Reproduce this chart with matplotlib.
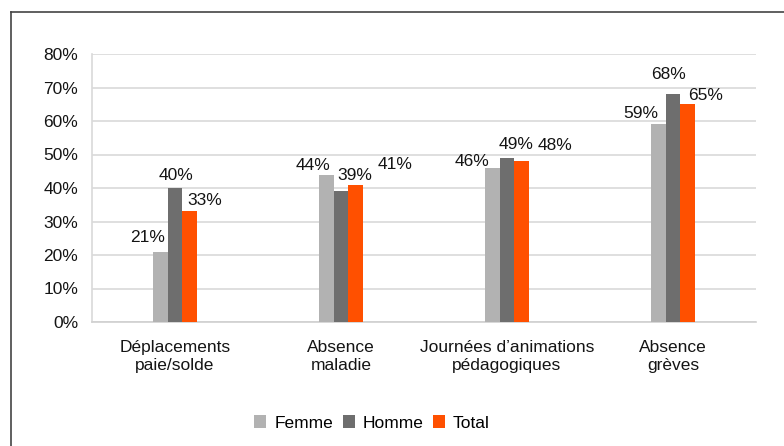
import numpy as np
import matplotlib

matplotlib.use("Agg")

import matplotlib.pyplot as plt
from matplotlib.lines import Line2D
from matplotlib.patches import Patch

plt.rcParams["font.family"] = ["Liberation Sans", "DejaVu Sans"]

categories = ["Déplacements\npaie/solde", "Absence\nmaladie",
              "Journées d\u2019animations\npédagogiques", "Absence\ngrèves"]
femme = [21, 44, 46, 59]
homme = [40, 39, 49, 68]
total = [33, 41, 48, 65]
yticks = [0, 10, 20, 30, 40, 50, 60, 70, 80]

series = [("Femme", femme, "#b2b2b2"),
          ("Homme", homme, "#6e6e6e"),
          ("Total", total, "#ff5000")]

# label nudges in pixels (dx, dy above bar top), mimicking the original placement
nudges = [
    [(-12, 14), (-13, 9), (-20, 6), (-17, 11)],
    [(1, 12), (14, 16), (9, 13), (-5, 20)],
    [(15, 11), (39, 20), (33, 16), (18, 9)],
]

W, H = 784, 446
fs = 12.5
txt = "#141414"
fig = plt.figure(figsize=(W / 100, H / 100), dpi=100)

# outer frame (left and top edges visible)
fig.add_artist(Line2D([11 / W, 11 / W], [0, 1 - 12 / H], transform=fig.transFigure,
                      color="#444444", lw=1.2))
fig.add_artist(Line2D([11 / W, 1], [1 - 12 / H, 1 - 12 / H], transform=fig.transFigure,
                      color="#444444", lw=1.2))

ax = fig.add_axes([92 / W, (H - 322) / H, 664 / W, 268 / H])

x = np.arange(len(categories))
bw = 0.09
for i, (name, vals, col) in enumerate(series):
    pos = x + (i - 1) * bw
    ax.bar(pos, vals, width=bw, color=col, label=name, zorder=3)
    for j, (p, v) in enumerate(zip(pos, vals)):
        dx, dy = nudges[i][j]
        ax.annotate(f"{v}%", (p, v), xytext=(dx, dy), textcoords="offset pixels",
                    ha="center", va="center", fontsize=fs, color=txt)

ax.set_xlim(-0.5, len(categories) - 0.5)
ax.set_ylim(0, 80)
ax.set_yticks(yticks)
ax.set_yticklabels([f"{t}%" for t in yticks], fontsize=fs, color=txt)
ax.set_xticks(x)
ax.set_xticklabels(categories, fontsize=fs, color=txt, linespacing=1.25)
ax.tick_params(axis="both", length=0)
ax.tick_params(axis="x", pad=13)
ax.tick_params(axis="y", pad=10)
ax.grid(axis="y", color="#d9d9d9", lw=1.2, zorder=0)
for s in ["top", "right"]:
    ax.spines[s].set_visible(False)
ax.spines["left"].set_color("#d9d9d9")
ax.spines["bottom"].set_color("#d0d0d0")
ax.spines["left"].set_linewidth(1.2)
ax.spines["bottom"].set_linewidth(1.2)

handles = [Patch(facecolor=c, label=n) for n, _, c in series]
fig.legend(handles=handles, loc="center", bbox_to_anchor=(372 / W, 1 - 423 / H),
           ncol=3, frameon=False, fontsize=fs, handlelength=0.7, handleheight=0.7,
           handletextpad=0.45, columnspacing=0.55)

fig.savefig("out.png", dpi=100)
